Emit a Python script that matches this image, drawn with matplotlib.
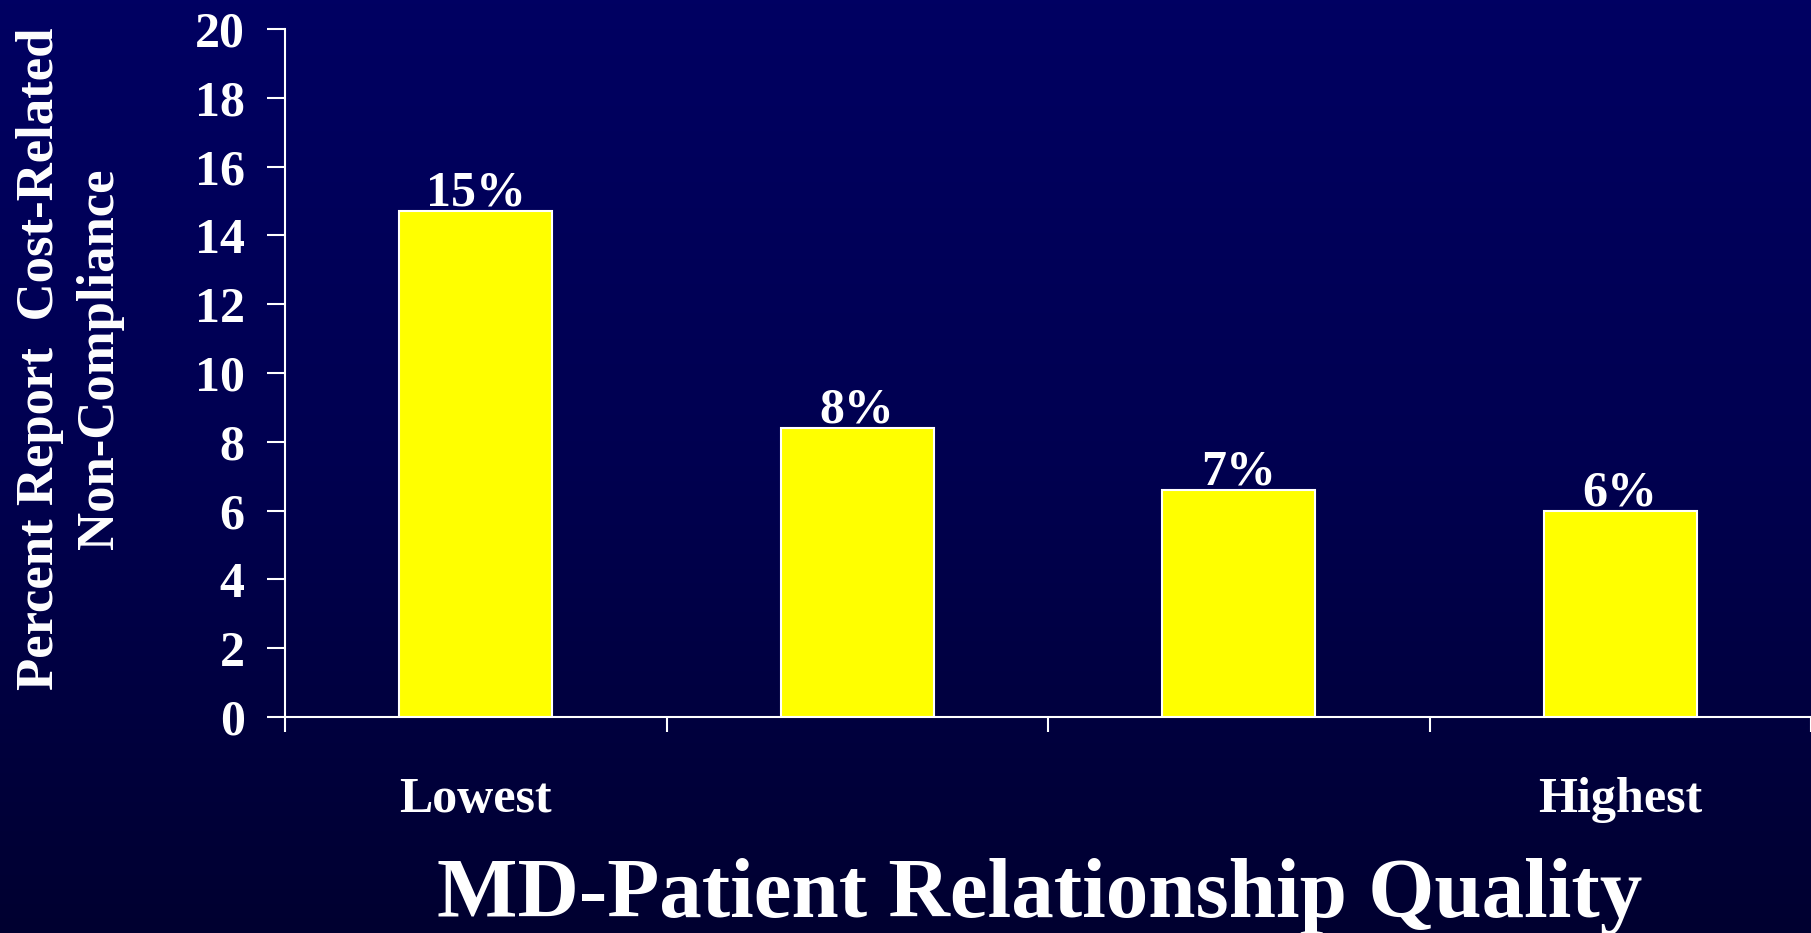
import numpy as np
import matplotlib
matplotlib.use("Agg")
import matplotlib.pyplot as plt
from matplotlib.colors import LinearSegmentedColormap

# Data
categories = ["Lowest", "", "", "Highest"]
percent_noncompliance = [14.7, 8.4, 6.6, 6.0]
y_ticks = [0, 2, 4, 6, 8, 10, 12, 14, 16, 18, 20]

plt.rcParams["font.family"] = ["Liberation Serif", "DejaVu Serif"]
plt.rcParams["font.weight"] = "bold"

W, H = 1811, 933
fig = plt.figure(figsize=(W / 100, H / 100), dpi=100)

# Navy gradient background
bg = fig.add_axes([0, 0, 1, 1], zorder=-10)
cmap = LinearSegmentedColormap.from_list("navy", ["#000062", "#000050", "#000030"])
grad = np.linspace(0, 1, 256).reshape(-1, 1)
bg.imshow(grad, aspect="auto", cmap=cmap, extent=[0, 1, 0, 1], origin="upper")
bg.set_axis_off()

left, right = 285 / W, 1.0
bottom, top = 1 - 717 / H, 1 - 29 / H
ax = fig.add_axes([left, bottom, right - left, top - bottom])
ax.set_facecolor("none")

x = np.arange(len(categories))
bars = ax.bar(x, percent_noncompliance, width=0.4, color="#FFFF00",
              edgecolor="white", linewidth=1.5, zorder=3)

for xi, v in zip(x, percent_noncompliance):
    ax.annotate(f"{round(v)}%", (xi, v), xytext=(0, 4), textcoords="offset points",
                ha="center", va="baseline", color="white", fontsize=36,
                fontweight="bold")

ax.set_xlim(-0.5, len(categories) - 0.5)
ax.set_ylim(0, 20)
ax.set_yticks(y_ticks)
ax.set_yticklabels([str(t) for t in y_ticks])

# Category boundaries get the tick marks; category names sit below
ax.set_xticks(x)
ax.set_xticklabels(categories)
ax.set_xticks(np.arange(-0.5, len(categories), 1.0), minor=True)
ax.tick_params(axis="x", which="major", length=0, pad=43, labelsize=36,
               colors="white")
ax.tick_params(axis="x", which="minor", length=11, width=1.5, direction="out",
               color="white")
ax.tick_params(axis="y", length=13, width=1.5, direction="out", pad=16,
               labelsize=36, colors="white")
for lbl in ax.get_xticklabels() + ax.get_yticklabels():
    lbl.set_fontweight("bold")

for side in ["top", "right"]:
    ax.spines[side].set_visible(False)
for side in ["left", "bottom"]:
    ax.spines[side].set_color("white")
    ax.spines[side].set_linewidth(1.5)

fig.text(70 / W, 1 - 359 / H, "Percent Report  Cost-Related\nNon-Compliance",
         rotation=90, ha="center", va="center", multialignment="center",
         color="white", fontsize=38, fontweight="bold", linespacing=1.32)

fig.text(1040 / W, 1 - 917 / H, "MD-Patient Relationship Quality",
         ha="center", va="baseline", color="white", fontsize=61.3,
         fontweight="bold")

fig.savefig("out.png", dpi=100, facecolor=fig.get_facecolor())
